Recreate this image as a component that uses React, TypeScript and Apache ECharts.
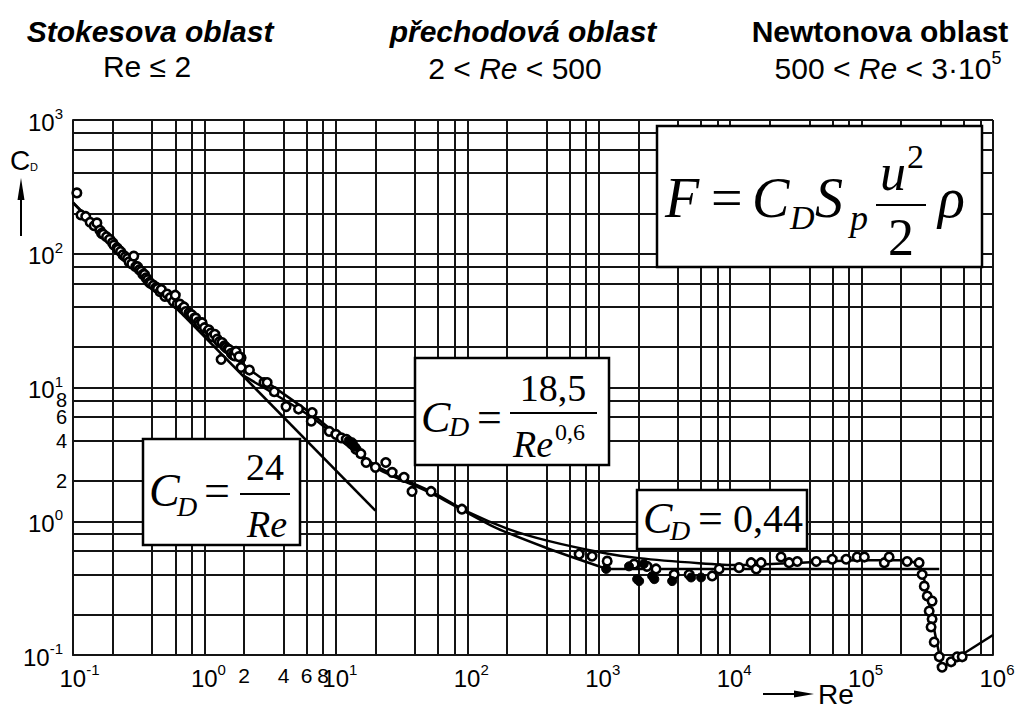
import React, { useEffect, useRef } from "react";
import * as echarts from "echarts";

// ---------- axis structure ----------
const xDecades = [0.1, 1, 10, 100, 1000, 10000, 100000, 1000000];
const yDecades = [0.1, 1, 10, 100, 1000];
const gridMultipliers = [2, 4, 6, 8];
const xMinorTickLabels = [2, 4, 6, 8];
const yMinorTickLabels = [2, 4, 6, 8];

// ---------- curves [Re, C_D] ----------
const stokesLaw = [
  [0.1, 240],
  [20, 1.2],
];
const standardCurve = [
  [0.1, 242], [0.5, 49], [1, 27.5], [2.07, 14.3], [6.6, 6.3], [20, 2.62],
  [53, 1.67], [98, 1.19], [208, 0.87], [420, 0.71], [1000, 0.59], [2030, 0.53],
  [5800, 0.486], [11700, 0.47], [33500, 0.49], [96000, 0.51], [210000, 0.51],
  [274000, 0.47], [305000, 0.34], [339000, 0.2], [370000, 0.13], [410000, 0.081],
];
const transitionCurve = [
  [2, 12.2], [6.6, 5.97], [20, 2.53], [53, 1.62], [155, 0.92], [420, 0.62], [1150, 0.44],
];
const newtonLine = [
  [1150, 0.44],
  [390000, 0.44],
];
const supercriticalLine = [
  [410000, 0.081],
  [1000000, 0.141],
];

// ---------- measured points ----------
const openPoints = [
  [0.107, 285], [0.115, 195], [0.125, 190], [0.135, 172], [0.145, 162], [0.152, 170],
  [0.16, 150], [0.165, 142], [0.17, 140], [0.18, 134], [0.19, 128], [0.2, 121],
  [0.205, 116], [0.216, 111], [0.22, 108], [0.23, 104], [0.24, 98], [0.25, 95],
  [0.26, 92], [0.267, 87], [0.28, 84], [0.29, 96], [0.3, 80], [0.31, 80],
  [0.32, 76], [0.33, 74], [0.34, 70], [0.35, 70], [0.36, 66], [0.37, 64],
  [0.38, 61], [0.39, 60], [0.41, 58], [0.43, 56], [0.44, 55], [0.46, 52],
  [0.47, 54], [0.5, 48], [0.52, 50], [0.55, 47], [0.58, 44], [0.6, 49],
  [0.62, 42], [0.65, 42], [0.68, 39], [0.7, 40], [0.72, 37], [0.76, 36],
  [0.78, 35], [0.8, 35], [0.84, 33], [0.86, 33], [0.9, 31], [0.92, 30],
  [0.96, 30.5], [1.0, 28], [1.05, 26], [1.08, 27], [1.12, 25.5], [1.15, 24],
  [1.2, 25], [1.25, 23], [1.3, 22], [1.36, 21.7], [1.42, 20.5], [1.45, 20],
  [1.5, 19.5], [1.54, 19.2], [1.6, 18], [1.65, 17.5], [1.7, 17.2], [1.74, 18.6],
  [1.9, 16.7], [1.34, 16.2], [1.83, 17], [1.9, 14.1], [2.2, 13.5], [2.84, 10.9],
  [3.0, 10.9], [3.4, 9.3], [4.18, 7.2], [5.2, 6.9], [6.6, 6.5], [6.5, 5.6],
  [8.9, 4.7], [10, 4.46], [11, 4.2], [12, 4.1], [13.3, 3.76], [14.2, 3.45],
  [15.5, 3.2], [17, 2.75], [20, 2.53], [24, 2.75], [26.8, 2.32], [33, 2.13],
  [38, 1.67], [53, 1.67], [91, 1.23],
  [710, 0.567], [890, 0.548], [1160, 0.503], [1860, 0.478], [2330, 0.46], [2730, 0.44],
  [3750, 0.4], [4880, 0.4], [7300, 0.39], [8250, 0.44], [11700, 0.45], [14450, 0.49],
  [15800, 0.44], [17200, 0.49], [24400, 0.54], [28100, 0.49], [32400, 0.5], [45200, 0.5],
  [59800, 0.52], [76300, 0.52], [92600, 0.54], [105000, 0.54], [149000, 0.49], [162000, 0.54],
  [222000, 0.5], [274000, 0.49], [289000, 0.4], [300000, 0.327], [316000, 0.276], [344000, 0.253],
  [327000, 0.213], [344000, 0.186], [338000, 0.162], [357000, 0.125], [390000, 0.097], [410000, 0.081],
  [480000, 0.089], [534000, 0.097], [583000, 0.097],
];
const filledPoints = [
  [12.5, 4.0], [13.3, 3.9], [14, 3.6],
  [1140, 0.44], [1700, 0.46], [1960, 0.369], [2030, 0.357], [2200, 0.48], [2550, 0.389],
  [2650, 0.369], [3620, 0.357], [5050, 0.38], [6010, 0.38],
];

const sans = '"Liberation Sans", Arial, Helvetica, sans-serif';
const serif = '"Liberation Serif", "Times New Roman", Times, serif';
const gridColor = "#141414";

function gridValues(decades: number[]) {
  const out: number[] = [];
  decades.forEach((d, i) => {
    out.push(d);
    if (i < decades.length - 1) gridMultipliers.forEach((m) => out.push(d * m));
  });
  return out;
}

function tx(x: number, y: number, text: string, size: number, extra: any = {}) {
  return {
    type: "text",
    x,
    y,
    z: 20,
    silent: true,
    style: {
      text,
      fontSize: size,
      fontFamily: serif,
      fontStyle: "italic",
      fill: "#000",
      align: "left",
      verticalAlign: "middle",
      ...extra,
    },
  };
}
function box(x: number, y: number, w: number, h: number) {
  return {
    type: "rect",
    z: 19,
    silent: true,
    shape: { x, y, width: w, height: h },
    style: { fill: "#fff", stroke: "#000", lineWidth: 2.5 },
  };
}
function bar(x1: number, x2: number, y: number) {
  return {
    type: "line",
    z: 20,
    silent: true,
    shape: { x1, y1: y, x2, y2: y },
    style: { stroke: "#000", lineWidth: 2 },
  };
}

const labelRich = {
  b: { fontSize: 24, fontFamily: sans, color: "#000", lineHeight: 28, verticalAlign: "bottom" },
  s: { fontSize: 15, fontFamily: sans, color: "#000", lineHeight: 15, verticalAlign: "top" },
  p1: { width: 8, fontSize: 15 },
  p2: { width: 13, fontSize: 15 },
};

export default function App() {
  const ref = useRef<HTMLDivElement>(null);
  useEffect(() => {
    if (!ref.current) return;
    const chart = echarts.init(ref.current, undefined, { renderer: "svg" });
    const xGrid = gridValues(xDecades);
    const yGrid = gridValues(yDecades);

    const headRich = {
      n: { fontSize: 30, fontFamily: sans, color: "#000", lineHeight: 34, verticalAlign: "bottom" },
      i: { fontSize: 30, fontFamily: sans, fontStyle: "italic", color: "#000", lineHeight: 34, verticalAlign: "bottom" },
      s: { fontSize: 18, fontFamily: sans, color: "#000", lineHeight: 20, verticalAlign: "top" },
    };

    const baseGraphic: any[] = [
      // headings
      tx(150, 31, "Stokesova oblast", 30, { fontFamily: sans, fontWeight: "bold", align: "center" }),
      tx(147, 66, "Re \u2264 2", 30, { fontFamily: sans, fontStyle: "normal", align: "center" }),
      tx(523, 31, "p\u0159echodov\u00e1 oblast", 30, { fontFamily: sans, fontWeight: "bold", align: "center" }),
      {
        type: "text", x: 515, y: 66, z: 20, silent: true,
        style: { text: "{n|2 < }{i|Re}{n| < 500}", rich: headRich, align: "center", verticalAlign: "middle" },
      },
      tx(880, 31, "Newtonova oblast", 30, { fontFamily: sans, fontWeight: "bold", fontStyle: "normal", align: "center" }),
      {
        type: "text", x: 888, y: 66, z: 20, silent: true,
        style: { text: "{n|500 < }{i|Re}{n| < 3\u00b710}{s|5}", rich: headRich, align: "center", verticalAlign: "middle" },
      },
      // y axis name + arrow
      tx(10, 160, "C", 28, { fontFamily: sans, fontStyle: "normal" }),
      tx(30, 167, "D", 11, { fontFamily: sans, fontStyle: "normal" }),
      { type: "line", z: 20, silent: true, shape: { x1: 21, y1: 236, x2: 21, y2: 196 }, style: { stroke: "#000", lineWidth: 2 } },
      { type: "polygon", z: 20, silent: true, shape: { points: [[21, 178], [17.5, 200], [24.5, 200]] }, style: { fill: "#000" } },
      // x axis name + arrow
      { type: "line", z: 20, silent: true, shape: { x1: 763, y1: 694, x2: 797, y2: 694 }, style: { stroke: "#000", lineWidth: 2 } },
      { type: "polygon", z: 20, silent: true, shape: { points: [[814, 694], [794, 690.5], [794, 697.5]] }, style: { fill: "#000" } },
      tx(818, 694, "Re", 28, { fontFamily: sans, fontStyle: "normal" }),
      // F = C_D S_p u^2/2 rho
      box(657, 126, 325, 141),
      tx(665, 198, "F", 56),
      tx(711, 198, "=", 56, { fontStyle: "normal" }),
      tx(752, 198, "C", 56),
      tx(790, 217, "D", 34),
      tx(815, 198, "S", 56),
      tx(850, 218, "p", 36),
      tx(893, 172, "u", 52, { align: "center" }),
      tx(907, 156, "2", 34, { fontStyle: "normal" }),
      bar(876, 926, 205),
      tx(901, 237, "2", 52, { fontStyle: "normal", align: "center" }),
      tx(938, 198, "\u03c1", 56),
      // C_D = 24/Re
      box(143, 439, 157, 106),
      tx(149, 490, "C", 46),
      tx(177, 506, "D", 28),
      tx(204, 490, "=", 46, { fontStyle: "normal" }),
      tx(265, 467, "24", 38, { fontStyle: "normal", align: "center" }),
      bar(240, 290, 494),
      tx(267, 524, "Re", 38, { align: "center" }),
      // C_D = 18,5 / Re^0,6
      box(415, 358, 194, 107),
      tx(421, 417, "C", 44),
      tx(449, 426, "D", 28),
      tx(477, 417, "=", 44, { fontStyle: "normal" }),
      tx(553, 388, "18,5", 38, { fontStyle: "normal", align: "center" }),
      bar(510, 597, 413),
      tx(513, 444, "Re", 38),
      tx(555, 432, "0,6", 24, { fontStyle: "normal" }),
      // C_D = 0,44
      box(637, 490, 170, 59),
      tx(643, 518, "C", 44),
      tx(670, 530, "D", 28),
      tx(698, 518, "=", 44, { fontStyle: "normal" }),
      tx(733, 518, "0,44", 40, { fontStyle: "normal" }),
    ];

    const lineSeries = (name: string, data: number[][], extra: any = {}) => ({
      name,
      type: "line",
      data,
      symbol: "none",
      z: 3,
      clip: false,
      silent: true,
      lineStyle: { color: "#000", width: 2.5 },
      ...extra,
    });

    const option: any = {
      animation: false,
      backgroundColor: "#fff",
      grid: { left: 73, right: 23, top: 120, bottom: 54, containLabel: false, outerBoundsMode: "none" },
      xAxis: {
        type: "log",
        logBase: 10,
        min: 0.1,
        max: 1000000,
        splitNumber: 7,
        axisLine: { show: true, lineStyle: { color: gridColor, width: 2 } },
        axisTick: { show: false },
        splitLine: { show: false },
        axisLabel: {
          show: true,
          margin: 7,
          showMinLabel: true,
          showMaxLabel: true,
          formatter: (v: number) => {
            const e = String(Math.round(Math.log10(v)));
            return `{p${e.length}|\u00a0}{b|10}{s|${e}}`;
          },
          rich: labelRich,
        },
      },
      yAxis: {
        type: "log",
        logBase: 10,
        min: 0.1,
        max: 1000,
        splitNumber: 4,
        axisLine: { show: true, lineStyle: { color: gridColor, width: 2 } },
        axisTick: { show: false },
        splitLine: { show: false },
        axisLabel: {
          show: true,
          margin: 10,
          showMinLabel: true,
          showMaxLabel: true,
          formatter: (v: number) => {
            const e = String(Math.round(Math.log10(v)));
            return `{b|10}{s|${e}}`;
          },
          rich: labelRich,
        },
      },
      series: [
        {
          name: "grid",
          type: "line",
          data: [[0.1, 0.1]],
          symbol: "none",
          silent: true,
          z: 1,
          lineStyle: { width: 0 },
          markLine: {
            z: 1,
            silent: true,
            symbol: ["none", "none"],
            label: { show: false },
            lineStyle: { color: gridColor, width: 2, type: "solid" },
            emphasis: { disabled: true },
            data: [...xGrid.map((v) => ({ xAxis: v })), ...yGrid.map((v) => ({ yAxis: v }))],
          },
        },
        lineSeries("24/Re", stokesLaw, { clip: true }),
        lineSeries("standard", standardCurve, { smooth: 0.25 }),
        lineSeries("18,5/Re^0,6", transitionCurve, { smooth: 0.2 }),
        lineSeries("0,44", newtonLine),
        lineSeries("supercritical", supercriticalLine),
        {
          name: "open",
          type: "scatter",
          data: openPoints,
          symbol: "circle",
          symbolSize: 8.5,
          z: 4,
          clip: false,
          silent: true,
          itemStyle: { color: "#fff", borderColor: "#000", borderWidth: 2.6, opacity: 1 },
        },
        {
          name: "filled",
          type: "scatter",
          data: filledPoints,
          symbol: "circle",
          symbolSize: 9,
          z: 4,
          clip: false,
          silent: true,
          itemStyle: { color: "#000", borderColor: "#000", borderWidth: 1, opacity: 1 },
        },
      ],
      graphic: baseGraphic,
    };
    chart.setOption(option);

    // minor tick labels (2,4,6,8) placed through the axes' own scales
    const minorLabels: any[] = [];
    xMinorTickLabels.forEach((v) => {
      const p = chart.convertToPixel({ gridIndex: 0 }, [v, 0.1]) as number[];
      minorLabels.push(tx(p[0], p[1] + 20, String(v), 21, { fontFamily: sans, fontStyle: "normal", align: "center" }));
    });
    yMinorTickLabels.forEach((v) => {
      const p = chart.convertToPixel({ gridIndex: 0 }, [0.1, v]) as number[];
      minorLabels.push(tx(p[0] - 6, p[1], String(v), 20, { fontFamily: sans, fontStyle: "normal", align: "right" }));
    });
    chart.setOption({ graphic: [...baseGraphic, ...minorLabels] });

    return () => chart.dispose();
  }, []);
  return (
    <div
      ref={ref}
      style={{ position: "absolute", left: 0, top: 0, width: 1016, height: 709, background: "#fff" }}
    />
  );
}
